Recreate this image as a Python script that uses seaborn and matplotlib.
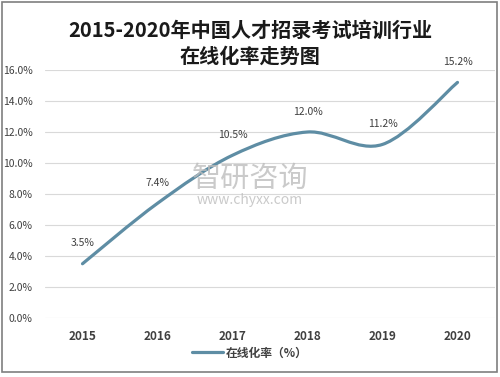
import numpy as np
import matplotlib.pyplot as plt
import seaborn as sns
from matplotlib.path import Path
from matplotlib.patches import PathPatch, Rectangle
from matplotlib.lines import Line2D

years = ["2015", "2016", "2017", "2018", "2019", "2020"]
rate = [3.5, 7.4, 10.5, 12.0, 11.2, 15.2]
labels = ["3.5%", "7.4%", "10.5%", "12.0%", "11.2%", "15.2%"]
yticks = [0, 2, 4, 6, 8, 10, 12, 14, 16]
title = "2015-2020年中国人才招录考试培训行业\n在线化率走势图"
series_name = "在线化率（%）"
line_color = "#5E8DA4"

sns.set_theme(style="white")
plt.rcParams["font.family"] = ["Noto Sans CJK SC", "DejaVu Sans"]

fig = plt.figure(figsize=(5.0, 3.77), dpi=100)
ax = fig.add_axes([0.09, 0.1565, 0.90, 0.6578])

# smoothed line (Excel-style), Catmull-Rom segments as cubic Beziers
x = np.arange(len(years), dtype=float)
y = np.array(rate, dtype=float)
px = np.concatenate([[x[0]], x, [x[-1]]])
py = np.concatenate([[y[0]], y, [y[-1]]])
verts = [(x[0], y[0])]
codes = [Path.MOVETO]
for i in range(1, len(px) - 2):
    c1 = (px[i] + (px[i + 1] - px[i - 1]) / 6, py[i] + (py[i + 1] - py[i - 1]) / 6)
    c2 = (px[i + 1] - (px[i + 2] - px[i]) / 6, py[i + 1] - (py[i + 2] - py[i]) / 6)
    verts += [c1, c2, (px[i + 1], py[i + 1])]
    codes += [Path.CURVE4] * 3
ax.add_patch(PathPatch(Path(verts, codes), facecolor="none", edgecolor=line_color,
                       lw=2.3, capstyle="round", zorder=3))

for xi, yi, lab in zip(x, y, labels):
    ax.annotate(lab, (xi, yi), xytext=(0, 11), textcoords="offset points",
                ha="center", va="bottom", fontsize=7.5, color="#404040")

ax.set_xlim(-0.5, 5.5)
ax.set_ylim(0, 16)
ax.set_yticks(yticks)
ax.set_yticklabels([f"{t:.1f}%" for t in yticks], fontsize=7.5, color="#404040")
ax.set_xticks(x)
ax.set_xticklabels(years, fontsize=8.5, fontweight="bold", color="#404040")
ax.tick_params(axis="y", length=0, pad=9)
ax.tick_params(axis="x", length=0, pad=9)
ax.grid(axis="y", color="#D9D9D9", lw=0.8)
sns.despine(ax=ax, left=True, bottom=True)

# watermark
fig.text(0.5, 0.525, "智研咨询", ha="center", va="center", fontsize=21,
         color="#BDBDBD", alpha=0.8)
fig.text(0.5, 0.47, "www.chyxx.com", ha="center", va="center", fontsize=10,
         color="#BDBDBD", alpha=0.8)

fig.text(0.5, 0.885, title, ha="center", va="center", fontsize=14.5,
         fontweight="bold", color="#1A1A1A", linespacing=1.3)

handle = Line2D([], [], color=line_color, lw=2.3)
fig.legend([handle], [series_name], loc="center", bbox_to_anchor=(0.5, 0.064),
           frameon=False, fontsize=8.5, handlelength=2.6, handletextpad=0.3,
           prop={"weight": "bold", "size": 8.5})
for t in fig.legends[0].get_texts():
    t.set_color("#404040")

fig.patches.append(Rectangle((0.004, 0.014), 0.99, 0.982, transform=fig.transFigure,
                             fill=False, edgecolor="#7F7F7F", lw=1.2))

fig.savefig("out.png", dpi=100)
